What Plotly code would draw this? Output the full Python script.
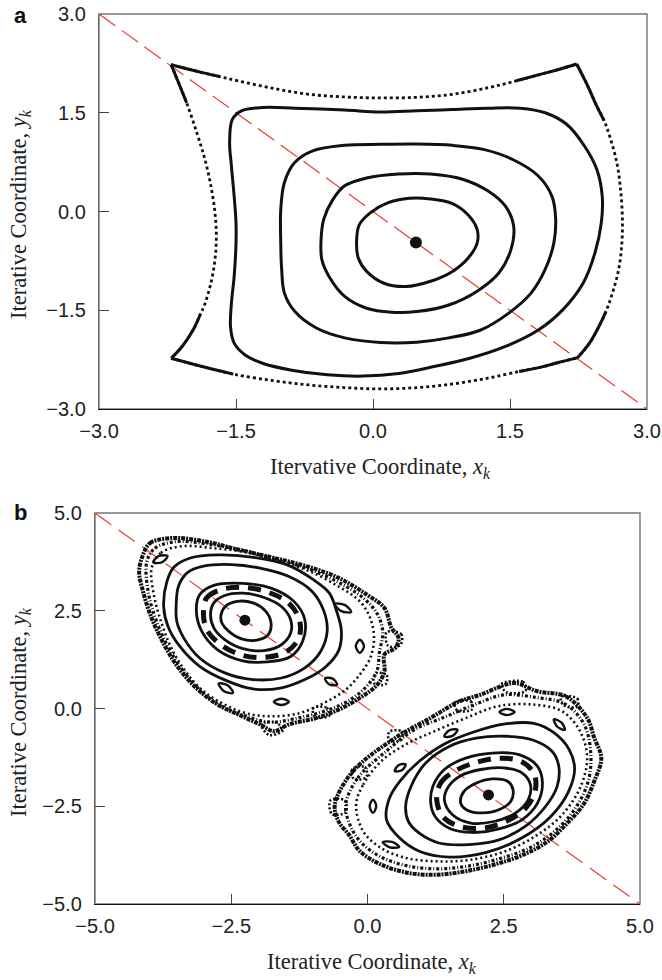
import plotly.graph_objects as go

# ---------------- data: panel a ----------------
a_ticks = [-3.0, -1.5, 0.0, 1.5, 3.0]
a_tick_text = ["\u22123.0", "\u22121.5", "0.0", "1.5", "3.0"]
a_fixed_point = [(0.47, -0.47)]

a_orbit_1 = [(-0.18, -0.46), (-0.15, -0.20), (-0.03, -0.02), (0.16, 0.13), (0.40, 0.20), (0.63, 0.19),
             (0.87, 0.12), (1.04, -0.05), (1.14, -0.27), (1.14, -0.48), (1.04, -0.71), (0.87, -0.91),
             (0.63, -1.06), (0.36, -1.14), (0.12, -1.09), (-0.07, -0.91), (-0.16, -0.71)]
a_orbit_2 = [(-0.57, -0.48), (-0.54, -0.12), (-0.44, 0.18), (-0.31, 0.39), (-0.07, 0.51), (0.28, 0.57),
             (0.63, 0.57), (0.98, 0.49), (1.26, 0.31), (1.45, 0.08), (1.54, -0.22), (1.51, -0.58),
             (1.38, -0.93), (1.14, -1.21), (0.83, -1.42), (0.48, -1.52), (0.20, -1.53), (-0.07, -1.47),
             (-0.31, -1.29), (-0.48, -0.99), (-0.56, -0.73)]
a_orbit_3 = [(-1.01, -0.48), (-1.01, 0.03), (-0.97, 0.44), (-0.86, 0.74), (-0.66, 0.92), (-0.31, 1.005),
             (0.08, 1.02), (0.48, 1.025), (0.87, 1.005), (1.22, 0.94), (1.53, 0.79), (1.81, 0.54),
             (1.96, 0.23), (2.00, -0.12), (1.98, -0.48), (1.885, -0.88), (1.73, -1.24), (1.49, -1.54),
             (1.18, -1.80), (0.83, -1.92), (0.48, -1.985), (0.08, -1.99), (-0.31, -1.92), (-0.62, -1.77),
             (-0.855, -1.52), (-0.97, -1.24), (-1.00, -0.88)]
a_orbit_4 = [(-1.57, 1.05), (-1.54, 1.40), (-1.44, 1.53), (-1.21, 1.58), (-0.855, 1.57), (-0.31, 1.54),
             (0.08, 1.51), (0.48, 1.53), (0.87, 1.55), (1.26, 1.57), (1.61, 1.57), (1.885, 1.50),
             (2.12, 1.325), (2.315, 0.995), (2.45, 0.64), (2.51, 0.23), (2.50, -0.17), (2.43, -0.63),
             (2.30, -1.09), (2.08, -1.49), (1.81, -1.80), (1.45, -2.05), (1.06, -2.23), (0.67, -2.355),
             (0.28, -2.46), (-0.11, -2.50), (-0.50, -2.48), (-0.89, -2.41), (-1.21, -2.305), (-1.40, -2.18),
             (-1.52, -2.00), (-1.56, -1.75), (-1.55, -1.39), (-1.52, -0.985), (-1.50, -0.48), (-1.50, -0.17),
             (-1.52, 0.23), (-1.55, 0.69)]
# outermost orbit, four sides between the corner points
a_outer_top = [(-2.21, 2.23), (-1.87, 2.11), (-1.68, 2.05), (-1.48, 1.985), (-1.09, 1.87), (-0.70, 1.78),
               (-0.31, 1.74), (0.08, 1.725), (0.48, 1.735), (0.87, 1.78), (1.26, 1.88), (1.57, 1.985),
               (1.85, 2.09), (2.04, 2.16), (2.23, 2.24)]
a_outer_left = [(-2.21, 2.23), (-2.13, 1.96), (-2.04, 1.65), (-1.93, 1.20), (-1.84, 0.79), (-1.775, 0.39),
                (-1.73, -0.02), (-1.715, -0.38), (-1.73, -0.73), (-1.775, -1.09), (-1.85, -1.44),
                (-1.89, -1.56), (-1.97, -1.80), (-2.09, -2.05), (-2.21, -2.23)]
a_outer_right = [(2.23, 2.24), (2.35, 1.91), (2.45, 1.60), (2.53, 1.38), (2.59, 1.15), (2.67, 0.74),
                 (2.71, 0.34), (2.73, -0.07), (2.725, -0.48), (2.69, -0.88), (2.61, -1.29), (2.55, -1.52),
                 (2.49, -1.70), (2.37, -2.00), (2.24, -2.22)]
a_outer_bottom = [(-2.21, -2.23), (-1.87, -2.355), (-1.53, -2.47), (-1.09, -2.57), (-0.70, -2.635),
                  (-0.31, -2.675), (0.08, -2.695), (0.48, -2.675), (0.87, -2.62), (1.26, -2.53),
                  (1.60, -2.43), (1.85, -2.36), (2.04, -2.29), (2.24, -2.22)]
# index ranges of each side where the iterates are dense (drawn solid)
a_outer_dense = {"top": [(0, 3), (11, 15)], "left": [(0, 3), (11, 15)],
                 "right": [(0, 4), (11, 15)], "bottom": [(0, 3), (10, 14)]}

# ---------------- data: panel b ----------------
b_ticks = [-5.0, -2.5, 0.0, 2.5, 5.0]
b_tick_text = ["\u22125.0", "\u22122.5", "0.0", "2.5", "5.0"]
b_fixed_points = [(-2.25, 2.26), (2.22, -2.21)]

# upper-left island
bL_ring_1 = [(-2.69, 2.38), (-2.61, 2.61), (-2.39, 2.74), (-2.10, 2.70), (-1.87, 2.49), (-1.77, 2.19),
             (-1.82, 1.89), (-2.03, 1.75), (-2.31, 1.78), (-2.55, 1.98), (-2.67, 2.18)]
bL_ring_2 = [(-2.88, 2.40), (-2.82, 2.70), (-2.62, 2.89), (-2.29, 2.95), (-1.90, 2.84), (-1.58, 2.61),
             (-1.41, 2.27), (-1.41, 1.93), (-1.58, 1.63), (-1.90, 1.48), (-2.29, 1.53), (-2.62, 1.76),
             (-2.82, 2.06)]
bL_chain = [(-3.01, 2.49), (-2.95, 2.83), (-2.69, 3.04), (-2.29, 3.10), (-1.84, 2.98), (-1.45, 2.70),
            (-1.25, 2.27), (-1.26, 1.80), (-1.48, 1.46), (-1.87, 1.31), (-2.29, 1.36), (-2.69, 1.63),
            (-2.95, 2.02)]
bL_ring_3 = [(-3.14, 2.49), (-3.08, 2.91), (-2.82, 3.15), (-2.29, 3.20), (-1.77, 3.08), (-1.35, 2.74),
             (-1.15, 2.27), (-1.19, 1.72), (-1.41, 1.33), (-1.84, 1.19), (-2.29, 1.22), (-2.75, 1.50),
             (-3.04, 1.97)]
bL_ring_4 = [(-3.51, 2.66), (-3.47, 3.12), (-3.31, 3.47), (-3.01, 3.64), (-2.49, 3.68), (-1.97, 3.59),
             (-1.45, 3.38), (-1.02, 3.00), (-0.80, 2.49), (-0.74, 1.97), (-0.86, 1.46), (-1.15, 1.04),
             (-1.58, 0.78), (-2.10, 0.74), (-2.62, 0.91), (-3.08, 1.29), (-3.37, 1.80), (-3.50, 2.23)]
bL_ring_5 = [(-3.74, 2.60), (-3.68, 3.25), (-3.55, 3.62), (-3.25, 3.85), (-2.75, 3.93), (-2.05, 3.86),
             (-1.45, 3.66), (-1.00, 3.30), (-0.70, 2.95), (-0.57, 2.50), (-0.48, 2.00), (-0.53, 1.48),
             (-0.78, 1.05), (-1.15, 0.74), (-1.60, 0.52), (-2.10, 0.50), (-2.60, 0.72), (-3.08, 1.08),
             (-3.45, 1.60), (-3.66, 2.10)]
bL_islands = [
    [(-3.93, 3.74), (-3.83, 3.90), (-3.67, 3.90), (-3.77, 3.74)],
    [(-0.60, 2.67), (-0.42, 2.65), (-0.30, 2.47), (-0.48, 2.49)],
    [(-0.14, 1.76), (-0.065, 1.59), (-0.14, 1.42), (-0.215, 1.59)],
    [(-0.78, 0.77), (-0.64, 0.765), (-0.56, 0.61), (-0.70, 0.615)],
    [(-1.72, 0.17), (-1.58, 0.25), (-1.44, 0.17), (-1.58, 0.09)],
    [(-2.73, 0.64), (-2.56, 0.59), (-2.47, 0.40), (-2.64, 0.45)],
]
bL_chaos_inner = [(-3.96, 3.59), (-3.79, 3.98), (-3.40, 4.15), (-2.82, 4.10), (-2.16, 3.98), (-1.58, 3.76),
                  (-1.06, 3.51), (-0.53, 3.12), (-0.14, 2.74), (0.05, 2.31), (0.12, 1.80), (0.05, 1.29),
                  (-0.14, 0.87), (-0.40, 0.48), (-0.80, 0.14), (-1.25, -0.12), (-1.77, -0.20),
                  (-2.23, -0.12), (-2.62, 0.10), (-3.01, 0.44), (-3.34, 0.95), (-3.60, 1.55),
                  (-3.79, 2.23), (-3.92, 2.91)]
bL_chaos_mid = [(-4.05, 3.75), (-3.90, 4.10), (-3.50, 4.27), (-2.90, 4.20), (-2.25, 4.03), (-1.65, 3.80),
                (-1.10, 3.58), (-0.55, 3.24), (-0.08, 2.83), (0.18, 2.42), (0.28, 1.95), (0.22, 1.45),
                (0.17, 0.95), (-0.02, 0.56), (-0.32, 0.22), (-0.75, -0.05), (-1.30, -0.25),
                (-1.80, -0.35), (-2.30, -0.16), (-2.70, 0.08), (-3.08, 0.48), (-3.40, 1.00),
                (-3.67, 1.60), (-3.88, 2.27), (-4.02, 2.95)]
bL_chaos_outer = [(-4.12, 3.93), (-3.99, 4.23), (-3.60, 4.36), (-3.01, 4.28), (-2.36, 4.06), (-1.71, 3.85),
                  (-1.12, 3.64), (-0.53, 3.34), (-0.01, 2.91), (0.31, 2.57), (0.44, 2.06), (0.57, 1.80),
                  (0.51, 1.55), (0.31, 1.38), (0.31, 0.95), (0.18, 0.61), (-0.14, 0.27), (-0.53, -0.03),
                  (-0.93, -0.24), (-1.45, -0.41), (-1.71, -0.58), (-1.97, -0.41), (-2.36, -0.16),
                  (-2.75, 0.10), (-3.14, 0.52), (-3.47, 1.04), (-3.73, 1.63), (-3.96, 2.31),
                  (-4.12, 3.00), (-4.19, 3.51)]
bL_chaos_blobs = [
    [(0.35, 1.95), (0.62, 1.90), (0.60, 1.62), (0.38, 1.60)],
    [(0.15, 0.90), (0.35, 0.85), (0.33, 0.62), (0.12, 0.65)],
    [(-1.95, -0.40), (-1.70, -0.35), (-1.55, -0.55), (-1.80, -0.68)],
    [(-1.00, 0.00), (-0.75, 0.02), (-0.70, -0.18), (-0.95, -0.22)],
]

# lower-right island
bR_ring_1 = [(1.71, -2.42), (1.77, -2.12), (1.99, -1.91), (2.29, -1.80), (2.57, -1.86), (2.67, -2.08),
             (2.63, -2.37), (2.41, -2.59), (2.11, -2.67), (1.83, -2.60)]
bR_ring_2 = [(1.41, -2.33), (1.49, -1.99), (1.71, -1.72), (2.08, -1.56), (2.50, -1.52), (2.84, -1.65),
             (2.99, -1.95), (2.95, -2.33), (2.72, -2.67), (2.32, -2.89), (1.89, -2.93), (1.56, -2.72)]
bR_chain = [(1.27, -2.33), (1.34, -1.91), (1.59, -1.61), (1.99, -1.38), (2.41, -1.27), (2.81, -1.35),
            (3.05, -1.65), (3.08, -2.08), (2.90, -2.55), (2.54, -2.89), (2.11, -3.06), (1.68, -3.01),
            (1.38, -2.76)]
bR_ring_3 = [(1.16, -2.42), (1.20, -1.99), (1.41, -1.56), (1.80, -1.27), (2.29, -1.14), (2.78, -1.18),
             (3.12, -1.48), (3.21, -1.91), (3.12, -2.42), (2.84, -2.84), (2.41, -3.08), (1.92, -3.17),
             (1.50, -3.06), (1.24, -2.76)]
bR_ring_4 = [(0.70, -2.50), (0.80, -1.99), (1.07, -1.39), (1.50, -0.97), (1.99, -0.76), (2.54, -0.71),
             (3.02, -0.80), (3.39, -1.10), (3.51, -1.48), (3.48, -1.99), (3.27, -2.50), (2.90, -3.01),
             (2.41, -3.36), (1.86, -3.48), (1.31, -3.44), (0.95, -3.19), (0.75, -2.89)]
bR_ring_5 = [(0.35, -2.85), (0.40, -2.30), (0.60, -1.85), (0.95, -1.35), (1.42, -0.90), (1.95, -0.60),
             (2.50, -0.40), (3.05, -0.38), (3.42, -0.62), (3.70, -1.05), (3.80, -1.55), (3.68, -2.15),
             (3.35, -2.78), (2.82, -3.32), (2.18, -3.68), (1.50, -3.80), (0.95, -3.65), (0.58, -3.30)]
bR_islands = [
    [(2.42, -0.09), (2.56, -0.01), (2.70, -0.09), (2.56, -0.17)],
    [(3.42, -0.275), (3.56, -0.36), (3.62, -0.545), (3.48, -0.46)],
    [(1.41, -0.715), (1.50, -0.56), (1.65, -0.545), (1.56, -0.70)],
    [(0.50, -1.60), (0.57, -1.45), (0.70, -1.43), (0.63, -1.58)],
    [(0.10, -2.33), (0.16, -2.50), (0.10, -2.67), (0.04, -2.50)],
    [(0.28, -3.42), (0.45, -3.41), (0.58, -3.54), (0.41, -3.55)],
]
bR_chaos_inner = [(-0.21, -2.46), (-0.08, -1.95), (0.25, -1.35), (0.70, -0.92), (1.23, -0.58), (1.81, -0.24),
                  (2.40, 0.06), (3.05, 0.10), (3.57, -0.07), (3.90, -0.58), (4.03, -1.27), (3.90, -2.03),
                  (3.57, -2.72), (3.12, -3.23), (2.53, -3.65), (1.88, -3.87), (1.29, -3.91), (0.70, -3.82),
                  (0.25, -3.57), (-0.08, -3.14)]
bR_chaos_mid = [(-0.40, -2.46), (-0.18, -1.78), (0.38, -1.05), (0.85, -0.55), (1.45, -0.20), (2.00, 0.12),
                (2.50, 0.35), (3.10, 0.28), (3.62, 0.12), (3.98, -0.42), (4.10, -1.25), (4.03, -1.95),
                (3.78, -2.62), (3.40, -3.18), (2.95, -3.58), (2.40, -3.85), (1.85, -4.03), (1.30, -4.10),
                (0.75, -4.03), (0.25, -3.80), (-0.12, -3.42), (-0.32, -2.98)]
bR_chaos_outer = [(-0.60, -2.46), (-0.27, -1.61), (0.51, -0.75), (1.16, -0.24), (1.68, 0.18), (2.07, 0.35),
                  (2.53, 0.61), (2.72, 0.65), (3.12, 0.44), (3.64, 0.31), (4.03, -0.24), (4.16, -0.75),
                  (4.29, -1.27), (4.16, -1.86), (3.96, -2.46), (3.64, -2.97), (3.31, -3.40), (2.86, -3.74),
                  (2.33, -3.99), (1.81, -4.16), (1.29, -4.25), (0.77, -4.21), (0.25, -3.99),
                  (-0.14, -3.65), (-0.34, -3.23), (-0.53, -2.89)]
bR_chaos_blobs = [
    [(2.45, 0.62), (2.85, 0.68), (2.90, 0.45), (2.55, 0.42)],
    [(1.60, 0.15), (1.90, 0.18), (1.92, -0.02), (1.65, -0.05)],
    [(-0.68, -2.35), (-0.42, -2.35), (-0.40, -2.65), (-0.65, -2.70)],
    [(-0.28, -1.55), (-0.05, -1.50), (-0.02, -1.75), (-0.25, -1.80)],
    [(0.40, -0.60), (0.62, -0.58), (0.62, -0.80), (0.40, -0.82)],
    [(3.55, 0.30), (3.85, 0.25), (3.85, 0.05), (3.60, 0.08)],
]

# ---------------- figure ----------------
BLACK = "#111111"
RED = "rgb(232,62,48)"
fig = go.Figure()


def xy(pts, closed=False):
    xs = [p[0] for p in pts]
    ys = [p[1] for p in pts]
    if closed:
        xs.append(pts[0][0])
        ys.append(pts[0][1])
    return xs, ys


def add_curve(pts, ax, closed=True, width=3.0, dash="solid", color=BLACK):
    xs, ys = xy(pts, closed)
    fig.add_trace(go.Scatter(x=xs, y=ys, mode="lines", xaxis=ax[0], yaxis=ax[1],
                             line=dict(color=color, width=width, dash=dash, shape="spline"),
                             hoverinfo="skip", showlegend=False))


A = ("x", "y")
B = ("x2", "y2")

# panel a: diagonal
fig.add_trace(go.Scatter(x=[a_ticks[0], a_ticks[-1]], y=[a_ticks[-1], a_ticks[0]], mode="lines",
                         line=dict(color=RED, width=1.2, dash="20px,8px"), showlegend=False,
                         hoverinfo="skip", xaxis="x", yaxis="y"))
for orb in (a_orbit_1, a_orbit_2, a_orbit_3, a_orbit_4):
    add_curve(orb, A, closed=True, width=3.0)
for name, side in (("top", a_outer_top), ("left", a_outer_left), ("right", a_outer_right),
                   ("bottom", a_outer_bottom)):
    add_curve(side, A, closed=False, width=2.8, dash="3px,3px")
    for i0, i1 in a_outer_dense[name]:
        add_curve(side[i0:i1], A, closed=False, width=3.0)
fx, fy = xy(a_fixed_point)
fig.add_trace(go.Scatter(x=fx, y=fy, mode="markers", marker=dict(color=BLACK, size=12),
                         showlegend=False, hoverinfo="skip", xaxis="x", yaxis="y"))

# panel b
fig.add_trace(go.Scatter(x=[b_ticks[0], b_ticks[-1]], y=[b_ticks[-1], b_ticks[0]], mode="lines",
                         line=dict(color=RED, width=1.2, dash="20px,9px"), showlegend=False,
                         hoverinfo="skip", xaxis="x2", yaxis="y2"))
for rings, chain, islands, chaos, blobs in (
        ((bL_ring_1, bL_ring_2, bL_ring_3, bL_ring_4, bL_ring_5), bL_chain, bL_islands,
         (bL_chaos_inner, bL_chaos_mid, bL_chaos_outer), bL_chaos_blobs),
        ((bR_ring_1, bR_ring_2, bR_ring_3, bR_ring_4, bR_ring_5), bR_chain, bR_islands,
         (bR_chaos_inner, bR_chaos_mid, bR_chaos_outer), bR_chaos_blobs)):
    for r in rings:
        add_curve(r, B, width=2.8)
    add_curve(chain, B, width=5.0, dash="13px,9px")
    for isl in islands:
        add_curve(isl, B, width=2.4)
    add_curve(chaos[0], B, width=2.6, dash="2px,3px")
    add_curve(chaos[1], B, width=3.2, dash="3px,2px,1px,2px")
    add_curve(chaos[2], B, width=4.0, dash="4px,1px,2px,1px")
    for blob in blobs:
        add_curve(blob, B, width=2.6, dash="2px,2px")
fx, fy = xy(b_fixed_points)
fig.add_trace(go.Scatter(x=fx, y=fy, mode="markers", marker=dict(color=BLACK, size=11),
                         showlegend=False, hoverinfo="skip", xaxis="x2", yaxis="y2"))

W, H = 662, 980
tick_font = dict(family="Liberation Sans, Arial, sans-serif", size=20, color="#222222")
title_font = dict(family="Liberation Serif, Times New Roman, serif", size=22.5, color="#222222")


def axis(domain, rng, ticks, text, line_color, anchor, standoff):
    return dict(domain=domain, range=rng, tickvals=ticks, ticktext=text, ticks="inside", ticklen=10,
                tickwidth=1.2, tickcolor="#444444", showgrid=False, zeroline=False, showline=True,
                linecolor=line_color, linewidth=1.4, tickfont=tick_font, anchor=anchor,
                ticklabelstandoff=standoff, fixedrange=True, automargin=False)


ax_a = [99 / W, 647 / W]
ay_a = [1 - 409 / H, 1 - 14 / H]
ax_b = [95 / W, 640 / W]
ay_b = [1 - 904 / H, 1 - 513 / H]

fig.update_layout(
    width=W, height=H, margin=dict(l=0, r=0, t=0, b=0, autoexpand=False),
    paper_bgcolor="white", plot_bgcolor="white", showlegend=False,
    xaxis=axis(ax_a, [-3, 3], a_ticks, a_tick_text, "#111111", "y", 4),
    yaxis=axis(ay_a, [-3, 3], a_ticks, a_tick_text, "#666666", "x", 8),
    xaxis2=axis(ax_b, [-5, 5], b_ticks, b_tick_text, "#111111", "y2", 4),
    yaxis2=axis(ay_b, [-5, 5], b_ticks, b_tick_text, "#666666", "x2", 8),
    shapes=[
        dict(type="rect", xref="x domain", yref="y domain", x0=0, x1=1, y0=0, y1=1,
             line=dict(color="#777777", width=1.4), layer="below"),
        dict(type="rect", xref="x2 domain", yref="y2 domain", x0=0, x1=1, y0=0, y1=1,
             line=dict(color="#777777", width=1.4), layer="below"),
    ],
)

xt = "Itervative Coordinate, <i>x</i><sub><i>k</i></sub>"
xt2 = "Iterative Coordinate, <i>x</i><sub><i>k</i></sub>"
yt = "Iterative Coordinate, <i>y</i><sub><i>k</i></sub>"
ann = [
    dict(text=xt, x=380 / W, y=1 - 468 / H, xref="paper", yref="paper",
         showarrow=False, font=title_font, xanchor="center", yanchor="middle"),
    dict(text=xt2, x=372 / W, y=1 - 963 / H, xref="paper", yref="paper",
         showarrow=False, font=title_font, xanchor="center", yanchor="middle"),
    dict(text=yt, x=20 / W, y=1 - 214 / H, xref="paper", yref="paper", textangle=-90,
         showarrow=False, font=title_font, xanchor="center", yanchor="middle"),
    dict(text=yt, x=20 / W, y=1 - 712 / H, xref="paper", yref="paper", textangle=-90,
         showarrow=False, font=title_font, xanchor="center", yanchor="middle"),
    dict(text="<b>a</b>", x=12 / W, y=1 - 16 / H, xref="paper", yref="paper", showarrow=False,
         font=dict(family="Liberation Sans, Arial, sans-serif", size=22, color="#111111"),
         xanchor="left", yanchor="middle"),
    dict(text="<b>b</b>", x=12 / W, y=1 - 512 / H, xref="paper", yref="paper", showarrow=False,
         font=dict(family="Liberation Sans, Arial, sans-serif", size=22, color="#111111"),
         xanchor="left", yanchor="middle"),
]
fig.update_layout(annotations=ann)

fig.write_html("out.html", config={"displayModeBar": False},
               post_script="document.body.style.margin='0px';document.body.style.padding='0px';")
